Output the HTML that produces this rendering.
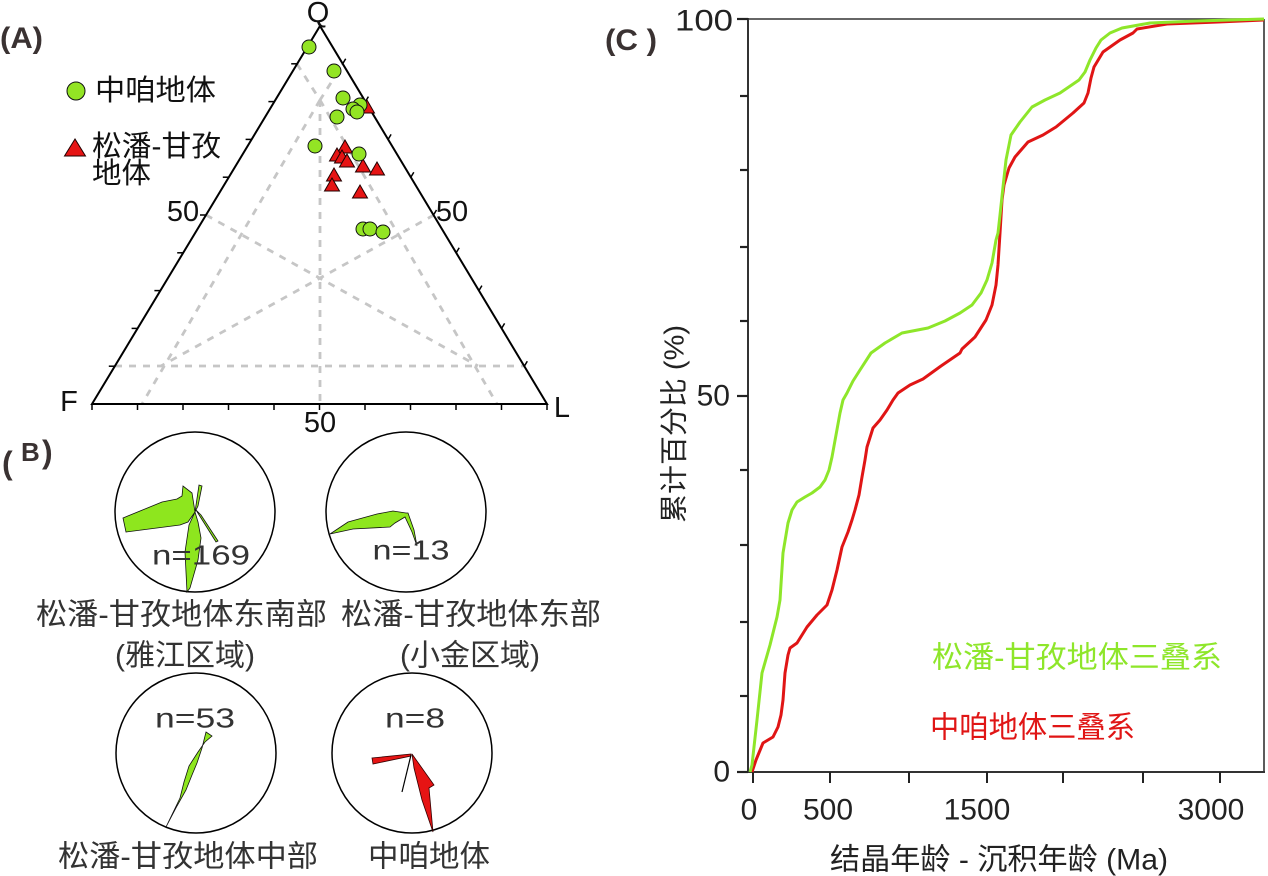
<!DOCTYPE html>
<html>
<head>
<meta charset="utf-8">
<style>
html,body{margin:0;padding:0;background:#fff;}
svg{display:block;}
text{font-family:"Liberation Sans","Noto Sans CJK SC",sans-serif;}
</style>
</head>
<body>
<svg width="1268" height="876" viewBox="0 0 1268 876" xmlns="http://www.w3.org/2000/svg">
<rect x="0" y="0" width="1268" height="876" fill="#fff"/>

<!-- ================= (A) Ternary ================= -->
<text x="0" y="48" font-size="30" font-weight="bold" fill="#3a3232" textLength="43" lengthAdjust="spacingAndGlyphs">(A)</text>

<!-- dashed field lines -->
<g stroke="#c6c6c6" stroke-width="2.8" stroke-dasharray="7 7" fill="none">
  <polyline points="297,64 320,100 343,64"/>
  <line x1="320" y1="100" x2="320" y2="404"/>
  <line x1="320" y1="100" x2="142" y2="404"/>
  <line x1="320" y1="100" x2="497" y2="404"/>
  <line x1="206" y1="215" x2="478" y2="366"/>
  <line x1="434" y1="215" x2="161" y2="366"/>
  <line x1="115" y1="366" x2="524" y2="366"/>
</g>

<!-- triangle outline -->
<polygon points="92,404 547,404 320,26" fill="none" stroke="#000" stroke-width="2"/>

<!-- ticks -->
<g stroke="#000" stroke-width="1.5">
  <line x1="92" y1="404" x2="92" y2="410"/>
  <line x1="137.5" y1="404" x2="137.5" y2="410"/>
  <line x1="183" y1="404" x2="183" y2="410"/>
  <line x1="228.5" y1="404" x2="228.5" y2="410"/>
  <line x1="274" y1="404" x2="274" y2="410"/>
  <line x1="319.5" y1="404" x2="319.5" y2="410"/>
  <line x1="365" y1="404" x2="365" y2="410"/>
  <line x1="410.5" y1="404" x2="410.5" y2="410"/>
  <line x1="456" y1="404" x2="456" y2="410"/>
  <line x1="501.5" y1="404" x2="501.5" y2="410"/>
  <line x1="547" y1="404" x2="547" y2="410"/>
  <!-- left -->
  <line x1="114.8" y1="366.2" x2="108.8" y2="366.2"/>
  <line x1="137.6" y1="328.4" x2="131.6" y2="328.4"/>
  <line x1="160.4" y1="290.6" x2="154.4" y2="290.6"/>
  <line x1="183.2" y1="252.8" x2="177.2" y2="252.8"/>
  <line x1="206" y1="215" x2="200" y2="215"/>
  <line x1="228.8" y1="177.2" x2="222.8" y2="177.2"/>
  <line x1="251.6" y1="139.4" x2="245.6" y2="139.4"/>
  <line x1="274.4" y1="101.6" x2="268.4" y2="101.6"/>
  <line x1="297.2" y1="63.8" x2="291.2" y2="63.8"/>
  <!-- right -->
  <line x1="524.3" y1="366.2" x2="527.3" y2="361.2"/>
  <line x1="501.6" y1="328.4" x2="504.6" y2="323.4"/>
  <line x1="478.9" y1="290.6" x2="481.9" y2="285.6"/>
  <line x1="456.2" y1="252.8" x2="459.2" y2="247.8"/>
  <line x1="433.5" y1="215" x2="436.5" y2="210"/>
  <line x1="410.8" y1="177.2" x2="413.8" y2="172.2"/>
  <line x1="388.1" y1="139.4" x2="391.1" y2="134.4"/>
  <line x1="365.4" y1="101.6" x2="368.4" y2="96.6"/>
  <line x1="342.7" y1="63.8" x2="345.7" y2="58.8"/>
</g>

<!-- labels -->
<g font-size="29" fill="#111" dominant-baseline="central">
  <text x="318" y="13" text-anchor="middle">Q</text>
  <text x="69" y="402" text-anchor="middle">F</text>
  <text x="562" y="408" text-anchor="middle">L</text>
  <text x="183" y="212" text-anchor="middle">50</text>
  <text x="452" y="212" text-anchor="middle">50</text>
  <text x="320" y="423" text-anchor="middle">50</text>
</g>

<!-- triangles (松潘-甘孜) -->
<g fill="#e61414" stroke="#200" stroke-width="1">
  <polygon points="367,100 359.5,113 374.5,113"/>
  <polygon points="345,140 337.5,153 352.5,153"/>
  <polygon points="337,148 329.5,161 344.5,161"/>
  <polygon points="342,150 334.5,163 349.5,163"/>
  <polygon points="347,154 339.5,167 354.5,167"/>
  <polygon points="363,159 355.5,172 370.5,172"/>
  <polygon points="377,162 369.5,175 384.5,175"/>
  <polygon points="334,168 326.5,181 341.5,181"/>
  <polygon points="332,178 324.5,191 339.5,191"/>
  <polygon points="360,185 352.5,198 367.5,198"/>
</g>
<!-- circles (中咱) -->
<g fill="#93e424" stroke="#111" stroke-width="1">
  <circle cx="309" cy="47" r="7"/>
  <circle cx="334" cy="71" r="7"/>
  <circle cx="343" cy="98" r="7"/>
  <circle cx="360" cy="105" r="7"/>
  <circle cx="353" cy="109" r="7"/>
  <circle cx="357" cy="112" r="7"/>
  <circle cx="337" cy="117" r="7"/>
  <circle cx="315" cy="146" r="7"/>
  <circle cx="359" cy="154" r="7"/>
  <circle cx="363" cy="229" r="7"/>
  <circle cx="370" cy="229" r="7"/>
  <circle cx="383" cy="232" r="7"/>
</g>

<!-- legend A -->
<circle cx="76" cy="91" r="9" fill="#93e424" stroke="#111" stroke-width="1"/>
<text x="95" y="91" font-size="29" fill="#111" dominant-baseline="central" textLength="121" lengthAdjust="spacingAndGlyphs">中咱地体</text>
<polygon points="75,139 64.5,156 85.5,156" fill="#e61414" stroke="#200" stroke-width="1"/>
<text x="92" y="147" font-size="29" fill="#111" dominant-baseline="central" textLength="129" lengthAdjust="spacingAndGlyphs">松潘-甘孜</text>
<text x="92" y="174" font-size="29" fill="#111" dominant-baseline="central" textLength="59" lengthAdjust="spacingAndGlyphs">地体</text>

<!-- ================= (B) Rose diagrams ================= -->
<text x="2" y="474" font-size="32" font-weight="bold" fill="#3a3232">(</text>
<text x="21" y="461" font-size="26" font-weight="bold" fill="#3a3232">B</text>
<text x="42" y="463" font-size="32" font-weight="bold" fill="#3a3232">)</text>

<g fill="none" stroke="#000" stroke-width="1.5">
  <circle cx="195" cy="512" r="80"/>
  <circle cx="406" cy="512" r="80"/>
  <circle cx="196" cy="753" r="80"/>
  <circle cx="412" cy="753" r="80"/>
</g>

<!-- rose 1 -->
<g fill="#8ee61e" stroke="#111" stroke-width="0.8">
  <polygon points="195,512 188,522 180,525 126,532 123,518 162,502 177,499 182,496 183,486 192,493"/>
  <polygon points="195,512 199,485 202,486 198,506"/>
  <polygon points="196,510 216,542 218,541 201,515"/>
  <polygon points="195,512 189,525 185,552 187,592 190,588 198,560 201,538 198,522"/>
</g>
<!-- rose 2 -->
<polygon points="406,513 393,511 377,514 348,522 330,534 353,529 390,527 395,523 405,517 412,532 417,546 414,530 408,513" fill="#8ee61e" stroke="#111" stroke-width="0.8"/>
<!-- rose 3 -->
<polygon points="206,732 212,736 205,742 198,752 189,766 184,782 180,798 166,827 177,806 186,790 192,775 197,763 202,748 204,740" fill="#8ee61e" stroke="#111" stroke-width="0.8"/>
<!-- rose 4 -->
<g fill="#e61414" stroke="#300" stroke-width="0.8">
  <polygon points="411,754 372,758 373,764 411,756"/>
  <polygon points="412,754 434,785 429,788 433,832 422,800 414,768"/>
</g>
<line x1="411" y1="755" x2="402" y2="792" stroke="#000" stroke-width="1.2"/>

<g font-size="28" fill="#333" dominant-baseline="central" text-anchor="middle">
  <text x="201" y="555" textLength="98" lengthAdjust="spacingAndGlyphs">n=169</text>
  <text x="411" y="550" textLength="77" lengthAdjust="spacingAndGlyphs">n=13</text>
  <text x="195" y="718" textLength="80" lengthAdjust="spacingAndGlyphs">n=53</text>
  <text x="415" y="718" textLength="60" lengthAdjust="spacingAndGlyphs">n=8</text>
</g>
<g font-size="30" fill="#333" dominant-baseline="central">
  <text x="36" y="615" textLength="291" lengthAdjust="spacingAndGlyphs">松潘-甘孜地体东南部</text>
  <text x="115" y="656" textLength="140" lengthAdjust="spacingAndGlyphs">(雅江区域)</text>
  <text x="341" y="615" textLength="260" lengthAdjust="spacingAndGlyphs">松潘-甘孜地体东部</text>
  <text x="400" y="656" textLength="140" lengthAdjust="spacingAndGlyphs">(小金区域)</text>
  <text x="58" y="857" textLength="260" lengthAdjust="spacingAndGlyphs">松潘-甘孜地体中部</text>
  <text x="368" y="857" textLength="122" lengthAdjust="spacingAndGlyphs">中咱地体</text>
</g>

<!-- ================= (C) Cumulative chart ================= -->
<text x="605" y="50" font-size="30" font-weight="bold" fill="#3a3232" textLength="52" lengthAdjust="spacingAndGlyphs">(C )</text>

<!-- frame -->
<line x1="748" y1="19" x2="1264" y2="19" stroke="#333" stroke-width="1.6"/>
<line x1="1264" y1="19" x2="1264" y2="772" stroke="#333" stroke-width="1.6"/>
<line x1="748" y1="18" x2="748" y2="773" stroke="#333" stroke-width="2"/>
<line x1="747" y1="772" x2="1265" y2="772" stroke="#333" stroke-width="2"/>

<!-- y ticks -->
<g stroke="#222" stroke-width="2.2">
  <line x1="737" y1="19" x2="748" y2="19"/>
  <line x1="740" y1="96" x2="748" y2="96"/>
  <line x1="740" y1="170" x2="748" y2="170"/>
  <line x1="740" y1="247" x2="748" y2="247"/>
  <line x1="740" y1="321" x2="748" y2="321"/>
  <line x1="737" y1="396" x2="748" y2="396"/>
  <line x1="740" y1="470" x2="748" y2="470"/>
  <line x1="740" y1="545" x2="748" y2="545"/>
  <line x1="740" y1="622" x2="748" y2="622"/>
  <line x1="740" y1="696" x2="748" y2="696"/>
  <line x1="737" y1="772" x2="748" y2="772"/>
</g>
<!-- x ticks -->
<g stroke="#222" stroke-width="2">
  <line x1="753" y1="772" x2="753" y2="783"/>
  <line x1="830" y1="772" x2="830" y2="783"/>
  <line x1="909" y1="772" x2="909" y2="783"/>
  <line x1="987" y1="772" x2="987" y2="783"/>
  <line x1="1063" y1="772" x2="1063" y2="783"/>
  <line x1="1143" y1="772" x2="1143" y2="783"/>
  <line x1="1220" y1="772" x2="1220" y2="783"/>
</g>

<g font-size="30" fill="#222" dominant-baseline="central">
  <text x="733" y="21" text-anchor="end" textLength="58" lengthAdjust="spacingAndGlyphs">100</text>
  <text x="730" y="396" text-anchor="end">50</text>
  <text x="730" y="772" text-anchor="end">0</text>
  <text x="749" y="810" text-anchor="middle">0</text>
  <text x="828" y="810" text-anchor="middle">500</text>
  <text x="977" y="810" text-anchor="middle">1500</text>
  <text x="1211" y="810" text-anchor="middle">3000</text>
</g>

<text x="999" y="860" font-size="30" fill="#222" dominant-baseline="central" text-anchor="middle" textLength="338" lengthAdjust="spacingAndGlyphs">结晶年龄 - 沉积年龄 (Ma)</text>
<text transform="translate(674,424) rotate(-90)" x="0" y="0" font-size="28" fill="#222" dominant-baseline="central" text-anchor="middle" textLength="198" lengthAdjust="spacingAndGlyphs">累计百分比 (%)</text>

<!-- curves -->
<polyline fill="none" stroke="#e01515" stroke-width="3" stroke-linejoin="round" points="752,772 756,760 763,743 768,740 773,737 778,727 781,715 783,700 785,673 788,655 790,648 797,643 802,635 807,627 817,615 827,605 832,590 837,570 842,547 848,532 852,520 855,510 859,495 862,477 865,460 867,447 873,428 880,420 887,410 893,400 898,393 910,385 923,379 941,366 960,353 962,349 975,337 986,320 992,305 996,285 998,265 1000,233 1002,200 1004,185 1009,168 1015,157 1028,142 1043,135 1056,127 1073,113 1084,103 1088,93 1091,78 1094,67 1103,52 1120,40 1133,33 1137,29 1167,24 1218,22 1264,20"/>
<polyline fill="none" stroke="#8ee62a" stroke-width="3" stroke-linejoin="round" points="750,772 752,765 757,720 762,673 770,645 777,617 780,600 783,553 786,535 788,523 792,510 797,502 805,497 812,493 820,487 825,480 829,470 832,457 836,435 840,413 843,400 847,393 853,381 860,370 871,353 885,343 902,333 928,328 945,321 960,313 972,305 981,293 987,280 992,263 996,240 998,233 1000,215 1003,187 1006,160 1011,135 1020,122 1032,107 1045,100 1060,93 1079,80 1085,72 1090,60 1096,48 1101,40 1110,33 1122,28 1150,23 1197,21 1264,19"/>

<text x="932" y="658" font-size="30" fill="#8ee62a" dominant-baseline="central" textLength="290" lengthAdjust="spacingAndGlyphs">松潘-甘孜地体三叠系</text>
<text x="930" y="728" font-size="30" fill="#e01515" dominant-baseline="central" textLength="205" lengthAdjust="spacingAndGlyphs">中咱地体三叠系</text>

</svg>
</body>
</html>
